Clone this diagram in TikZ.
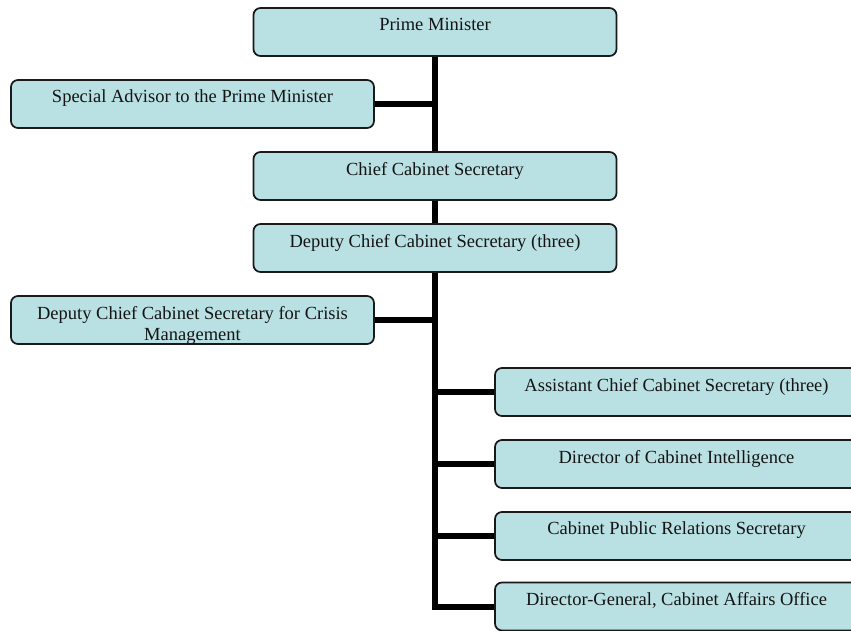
\documentclass[tikz,border=0pt]{standalone}
\usepackage{fontspec}
\setmainfont{Liberation Serif}
\begin{document}
\begin{tikzpicture}[x=1pt, y=-1pt,
  orgbox/.style={draw=black!90, line width=1.7pt, fill=boxfill, rounded corners=7pt,
    minimum width=363pt, minimum height=48pt, inner sep=0pt},
  boxtext/.style={anchor=north, inner sep=0pt, align=center, yshift=-10.8pt,
    font=\fontsize{18.5}{21.5}\selectfont, text=black!92},
  link/.style={line width=6pt, draw=black, line cap=butt, line join=miter}
]
\definecolor{boxfill}{RGB}{185,224,227}
\clip (0,0) rectangle (851,631);
\fill[white] (0,0) rectangle (851,631);

% central column and side posts
\node[orgbox, label={[boxtext]north:Prime Minister}] (pm) at (435,32) {};
\node[orgbox, label={[boxtext]north:Special Advisor to the Prime Minister}] (sa) at (192.5,104) {};
\node[orgbox, label={[boxtext]north:Chief Cabinet Secretary}] (ccs) at (435,176) {};
\node[orgbox, label={[boxtext]north:Deputy Chief Cabinet Secretary (three)}] (dccs) at (435,248) {};
\node[orgbox, label={[boxtext]north:Deputy Chief Cabinet Secretary for Crisis\\Management}] (crisis) at (192.5,320) {};

% offices reporting below
\node[orgbox, label={[boxtext]north:Assistant Chief Cabinet Secretary (three)}] (acs) at (676.5,392) {};
\node[orgbox, label={[boxtext]north:Director of Cabinet Intelligence}] (dci) at (676.5,464) {};
\node[orgbox, label={[boxtext]north:Cabinet Public Relations Secretary}] (cprs) at (676.5,536) {};
\node[orgbox, label={[boxtext]north:Director-General, Cabinet Affairs Office}] (dg) at (676.5,606.5) {};

% connectors
\draw[link] (pm.south) -- (ccs.north);
\draw[link] (sa.east) -- (sa.east -| pm.south);
\draw[link] (ccs.south) -- (dccs.north);
\draw[link] (dccs.south) |- (dg.west);
\draw[link] (crisis.east) -- (crisis.east -| dccs.south);
\draw[link] (acs.west -| dccs.south) -- (acs.west);
\draw[link] (dci.west -| dccs.south) -- (dci.west);
\draw[link] (cprs.west -| dccs.south) -- (cprs.west);
\end{tikzpicture}
\end{document}
